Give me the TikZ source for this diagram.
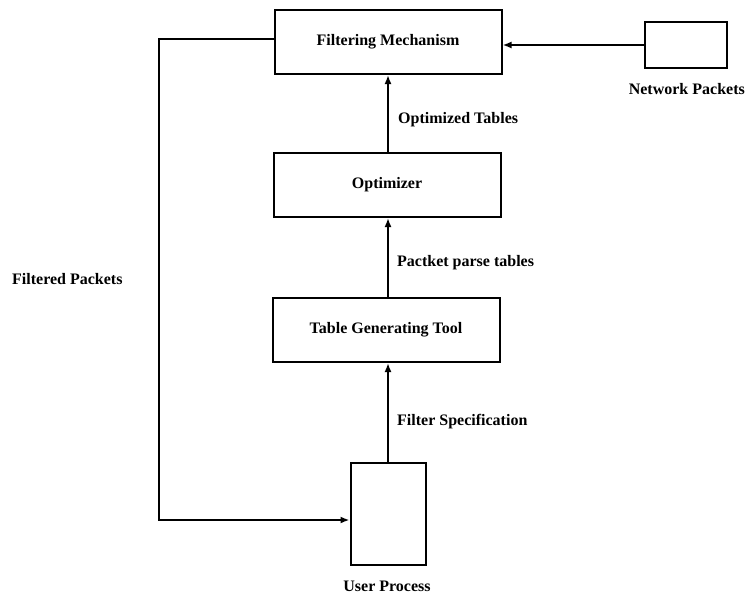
\documentclass[tikz,border=0pt]{standalone}
\usepackage{fontspec}
\setmainfont{Liberation Serif}
\usetikzlibrary{arrows.meta}
\begin{document}
\begin{tikzpicture}[x=1pt,y=-1pt,
  box/.style={draw,line width=2pt,minimum width=227pt,minimum height=64pt,inner sep=0pt},
  lbl/.style={font=\bfseries\fontsize{16}{19}\selectfont,inner sep=0pt},
  conn/.style={line width=2pt,-{Latex[length=9pt,width=7pt]}}]
\useasboundingbox (0,0) rectangle (746,594);
% boxes of the processing chain
\node[box,lbl] (filter) at (388,42) {Filtering Mechanism};
\node[box,lbl] (opt) at (387,185) {Optimizer};
\node[box,lbl] (gen) at (386,330) {Table Generating Tool};
\node[draw,line width=2pt,minimum width=75pt,minimum height=102pt,inner sep=0pt] (user) at (388,514) {};
\node[draw,line width=2pt,minimum width=82pt,minimum height=45pt,inner sep=0pt] (net) at (686,45) {};
% captions
\node[lbl,anchor=east] (netlbl) at (745,89) {Network Packets};
\node[lbl] (userlbl) at (387,586) {User Process};
\node[lbl,anchor=west] (fplbl) at (12,279) {Filtered Packets};
\node[lbl,anchor=west] (otlbl) at (398,120) {Optimized Tables};
\node[lbl,anchor=west] (pplbl) at (397,263) {Pactket parse tables};
\node[lbl,anchor=west] (fslbl) at (397,422) {Filter Specification};
% connectors
\coordinate (ax) at (388,0);
\draw[conn] (net.west) -- (net.west -| filter.east);
\draw[conn] (opt.north -| ax) -- (filter.south -| ax);
\draw[conn] (gen.north -| ax) -- (opt.south -| ax);
\draw[conn] (user.north -| ax) -- (gen.south -| ax);
\coordinate (c1) at (159,39);
\coordinate (c2) at (159,520);
\draw[conn] (filter.west |- c1) -- (c1) -- (c2) -- (c2 -| user.west);
\end{tikzpicture}
\end{document}
